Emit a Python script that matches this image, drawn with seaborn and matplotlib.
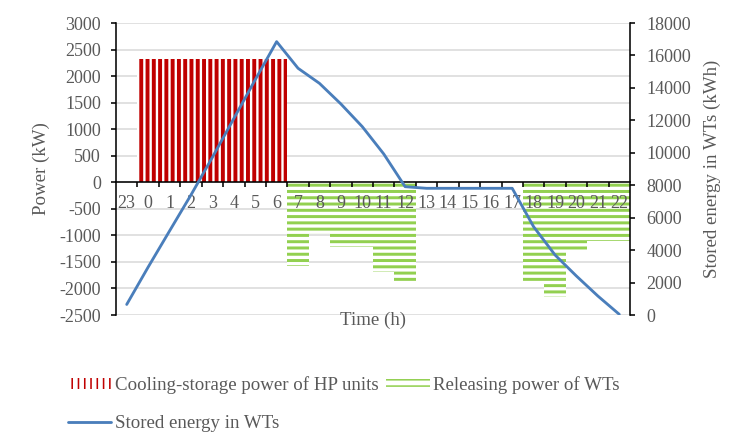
import numpy as np
import pandas as pd
import seaborn as sns
import matplotlib.pyplot as plt
import matplotlib.patches as mpatches
from matplotlib.lines import Line2D
from matplotlib.ticker import MultipleLocator

# hour-of-day categories (day starts at 23h)
hours = ['23', '0', '1', '2', '3', '4', '5', '6', '7', '8', '9', '10',
         '11', '12', '13', '14', '15', '16', '17', '18', '19', '20', '21', '22']
# cooling-storage power of the HP units (kW)
cooling_power = [0, 2320, 2320, 2320, 2320, 2320, 2320, 2320,
                 0, 0, 0, 0, 0, 0, 0, 0, 0, 0, 0, 0, 0, 0, 0, 0]
# releasing power of the WTs (kW)
release_power = [0, 0, 0, 0, 0, 0, 0, 0,
                 -1580, -980, -1220, -1220, -1690, -1910,
                 0, 0, 0, 0, 0,
                 -1910, -2160, -1310, -1100, -1100]
# stored energy in the WTs (kWh)
stored_energy = [650, 2950, 5180, 7400, 9720, 12110, 14500, 16850,
                 15210, 14280, 13010, 11610, 9930, 7910,
                 7810, 7810, 7810, 7810, 7810,
                 5440, 3700, 2400, 1170, 40]

RED = '#C00000'
GREEN = '#92D050'
BLUE = '#4A7EBB'
GREY = '#595959'

sns.set_theme(style='white')
plt.rcParams['font.family'] = ['Liberation Serif', 'DejaVu Serif']
plt.rcParams['axes.unicode_minus'] = False
plt.rcParams['text.color'] = GREY
plt.rcParams['axes.labelcolor'] = GREY
plt.rcParams['xtick.labelcolor'] = GREY
plt.rcParams['ytick.labelcolor'] = GREY

DPI = 113
fig = plt.figure(figsize=(750 / DPI, 443 / DPI), dpi=DPI)
ax = fig.add_axes([116 / 750, 1 - 315 / 443, 514 / 750, 292 / 443])
ax.patch.set_alpha(0)

df = pd.DataFrame({'hour': hours, 'cooling': cooling_power, 'release': release_power})

# red bars with white vertical stripes
with plt.rc_context({'hatch.linewidth': 2.5}):
    sns.barplot(data=df, x='hour', y='cooling', order=hours, ax=ax, width=1,
                color='white', saturation=1, errorbar=None,
                edgecolor=RED, linewidth=0, hatch='|||')
n_red = len(ax.patches)
# green bars with horizontal stripes
with plt.rc_context({'hatch.linewidth': 1.9}):
    sns.barplot(data=df, x='hour', y='release', order=hours, ax=ax, width=1,
                color='white', saturation=1, errorbar=None,
                edgecolor=GREEN, linewidth=0, hatch='---')
for i, p in enumerate(ax.patches):
    if hasattr(p, 'set_hatch_linewidth'):
        p.set_hatch_linewidth(2.5 if i < n_red else 1.9)

# stored energy on the right axis
ax2 = ax.twinx()
sns.lineplot(x=np.arange(len(hours)), y=stored_energy, ax=ax2, color=BLUE, lw=1.8)

ax.set_xlim(-0.5, len(hours) - 0.5)
ax.set_ylim(-2500, 3000)
ax.yaxis.set_major_locator(MultipleLocator(500))
ax2.set_ylim(0, 18000)
ax2.yaxis.set_major_locator(MultipleLocator(2000))

# gridlines under the bars, tick labels above them
ax.grid(False)
ax2.grid(False)
ax.set_axisbelow(False)
for v in ax.get_yticks():
    if -2500 <= v <= 3000:
        ax.axhline(v, color='#D9D9D9', lw=1.0, zorder=0)

# x axis crossing at zero, ticks between categories
ax.spines['bottom'].set_position(('data', 0))
for s in ['top', 'right']:
    ax.spines[s].set_visible(False)
for s in ['top', 'left', 'bottom']:
    ax2.spines[s].set_visible(False)
for s in [ax.spines['left'], ax.spines['bottom'], ax2.spines['right']]:
    s.set_color('black')
    s.set_linewidth(1.0)

ax.set_xticks(range(len(hours)))
ax.set_xticklabels(hours)
ax.set_xticks(np.arange(0.5, len(hours) - 1, 1), minor=True)
ax.tick_params(axis='x', which='major', length=0, pad=8, labelsize=11.5)
ax.tick_params(axis='x', which='minor', length=3.5, width=1, color='black', direction='out', bottom=True)
ax.tick_params(axis='y', which='major', length=3.5, width=1, color='black', direction='out',
               left=True, pad=6, labelsize=11.5)
ax2.tick_params(axis='y', which='major', length=3.5, width=1, color='black', direction='out',
                right=True, pad=7, labelsize=11.5)

ax.set_xlabel('Time (h)', fontsize=12)
ax.xaxis.set_label_coords(0.5, 0.01)
ax.set_ylabel('Power (kW)', fontsize=12, labelpad=6)
ax2.set_ylabel('Stored energy in WTs (kWh)', fontsize=12, labelpad=8)

# legend below the chart
h_red = mpatches.Patch(facecolor='white', edgecolor=RED, hatch='|||', lw=0)
h_green = mpatches.Patch(facecolor='white', edgecolor=GREEN, hatch='---', lw=0)
if hasattr(h_red, 'set_hatch_linewidth'):
    h_red.set_hatch_linewidth(2.5)
    h_green.set_hatch_linewidth(1.9)
h_blue = Line2D([], [], color=BLUE, lw=1.8)
fig.legend([h_red, h_blue, h_green],
           ['Cooling-storage power of HP units', 'Stored energy in WTs', 'Releasing power of WTs'],
           ncol=2, loc='upper left', bbox_to_anchor=(68 / 750, 1 - 376 / 443),
           frameon=False, fontsize=12, handlelength=2.3, handleheight=0.5,
           handletextpad=0.2, columnspacing=0.4, labelspacing=1.1,
           borderpad=0, borderaxespad=0)

fig.savefig('out.png', dpi=DPI)
